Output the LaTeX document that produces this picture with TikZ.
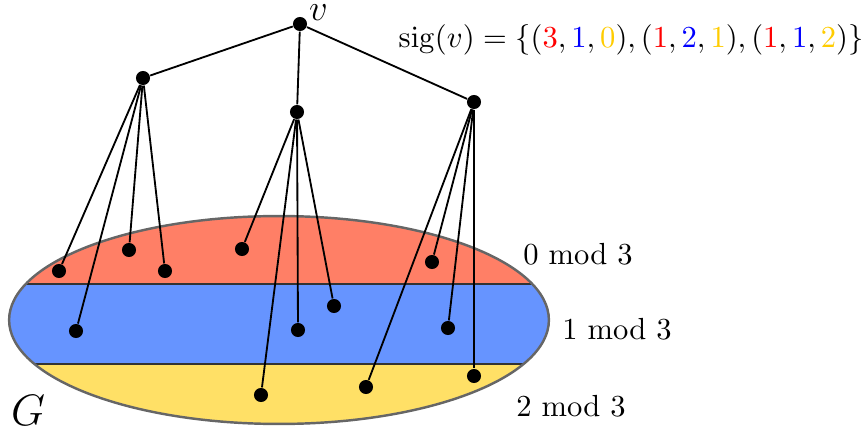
\documentclass[tikz,border=0pt]{standalone}
\usepackage{amsmath}
\usepackage{tikz}
\usetikzlibrary{positioning}

\definecolor{bandzero}{HTML}{FF7F66}
\definecolor{bandone}{HTML}{6694FF}
\definecolor{bandtwo}{HTML}{FFE066}
\definecolor{sigred}{HTML}{FF0000}
\definecolor{sigblue}{HTML}{0000FF}
\definecolor{sigyellow}{HTML}{FFCC00}

\begin{document}
\begin{tikzpicture}[
  x=0.0115cm, y=-0.0115cm,
  dot/.style={circle,fill=black,inner sep=0pt,minimum size=4.6pt},
  edge/.style={semithick},
  sep/.style={line width=0.7pt,black!80},
  note/.style={font=\normalsize,inner sep=1pt}
]
\useasboundingbox (0,0) rectangle (863,430);

% the graph G, cut in three residue classes
\begin{scope}
  \clip (279,320) ellipse [x radius=3.105cm, y radius=1.196cm];
  \fill[bandzero] (0,200) rectangle (600,284);
  \fill[bandone]  (0,284) rectangle (600,364);
  \fill[bandtwo]  (0,364) rectangle (600,430);
  \draw[sep] (0,284) -- (600,284);
  \draw[sep] (0,364) -- (600,364);
\end{scope}
\draw[black!60,line width=0.8pt] (279,320) ellipse [x radius=3.105cm, y radius=1.196cm];

\node[note] (zero) at (578,254) {0 mod 3};
\node[note] (one)  at (617,329) {1 mod 3};
\node[note] (two)  at (571,406) {2 mod 3};
\node[font=\Large,inner sep=0pt] (gname) at (28,410) {$G$};

% tree above G
\node[dot, label={[font=\fontsize{13}{15}\selectfont,inner sep=0pt,anchor=base west,xshift=0.3pt,yshift=1.2pt]east:$v$}] (v) at (300,24) {};
\node[dot] (a) at (143,78) {};
\node[dot] (b) at (297,112) {};
\node[dot] (c) at (474,102) {};

\node[dot] (a1) at (59,271) {};
\node[dot] (a2) at (129,250) {};
\node[dot] (a3) at (165,271) {};
\node[dot] (a4) at (76,331) {};

\node[dot] (b1) at (242,249) {};
\node[dot] (b2) at (334,306) {};
\node[dot] (b3) at (298,330) {};
\node[dot] (b4) at (261,395) {};

\node[dot] (c1) at (432,262) {};
\node[dot] (c2) at (448,328) {};
\node[dot] (c3) at (474,376) {};
\node[dot] (c4) at (366,387) {};

\draw[edge] (v) -- (a);
\draw[edge] (v) -- (b);
\draw[edge] (v) -- (c);
\foreach \t in {a,b,c}
  \foreach \i in {1,...,4}
    \draw[edge] (\t) -- (\t\i);

\node[note] (sig) at (631,40) {$\mathrm{sig}(v) = \{(\textcolor{sigred}{3}, \textcolor{sigblue}{1}, \textcolor{sigyellow}{0}), (\textcolor{sigred}{1}, \textcolor{sigblue}{2}, \textcolor{sigyellow}{1}), (\textcolor{sigred}{1}, \textcolor{sigblue}{1}, \textcolor{sigyellow}{2})\}$};
\end{tikzpicture}
\end{document}
